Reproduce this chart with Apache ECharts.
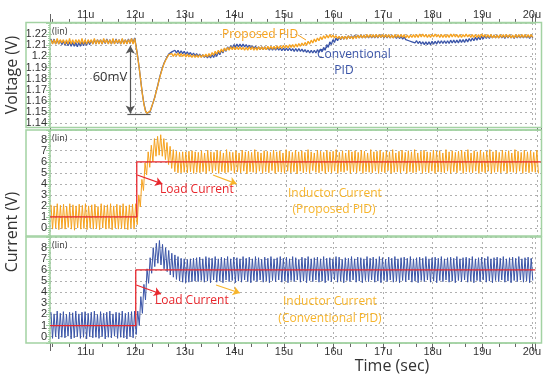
<!DOCTYPE html>
<html><head><meta charset="utf-8">
<script src="https://cdn.jsdelivr.net/npm/echarts@6/dist/echarts.min.js"></script>
<style>html,body{margin:0;padding:0;background:#fff}#c{width:544px;height:374px}</style>
</head><body><div id="c"></div>
<script>
// sampling: first sample time (µs) and half switching period (µs)
const T0 = 10.3, DT = 1/32;

// Output voltage, proposed PID (V)
const propV = [
1.215,1.211,1.215,1.211,1.216,1.211,1.215,1.212,1.215,1.211,1.215,1.211,1.216,1.211,1.215,1.211,
1.215,1.212,1.215,1.211,1.216,1.211,1.215,1.211,1.215,1.212,1.215,1.211,1.216,1.211,1.215,1.211,
1.215,1.211,1.216,1.212,1.215,1.211,1.215,1.211,1.216,1.211,1.215,1.212,1.215,1.211,1.216,1.211,
1.215,1.211,1.215,1.212,1.216,1.211,1.216,1.208,1.199,1.189,1.177,1.166,1.157,1.151,1.149,1.1485,
1.151,1.155,1.159,1.163,1.169,1.174,1.180,1.185,1.1895,1.1935,1.1965,1.199,1.2015,1.200,1.2025,1.200,
1.2025,1.2005,1.203,1.2,1.2025,1.2,1.202,1.1995,1.202,1.1995,1.2015,1.199,1.2015,1.199,1.2015,1.199,
1.2015,1.199,1.2015,1.1995,1.202,1.1995,1.2025,1.2,1.2035,1.201,1.2045,1.202,1.2055,1.203,1.2065,1.204,
1.2075,1.205,1.208,1.2055,1.2085,1.206,1.2085,1.206,1.2085,1.206,1.2085,1.206,1.208,1.2055,1.208,1.2055,
1.2085,1.206,1.2085,1.2055,1.208,1.2055,1.2085,1.206,1.2085,1.206,1.2085,1.206,1.209,1.2065,1.209,1.2065,
1.209,1.2065,1.2095,1.207,1.2095,1.207,1.21,1.2075,1.21,1.2075,1.2105,1.208,1.2105,1.208,1.211,1.2085,
1.2115,1.209,1.212,1.2095,1.2125,1.21,1.2135,1.211,1.2145,1.212,1.2155,1.213,1.2165,1.214,1.2175,1.215,
1.2185,1.216,1.219,1.2165,1.2195,1.217,1.219,1.2165,1.2185,1.216,1.218,1.2155,1.218,1.2155,1.218,1.2155,
1.2185,1.216,1.218,1.2155,1.2185,1.216,1.219,1.2165,1.219,1.2165,1.219,1.2165,1.2195,1.217,1.2195,1.217,
1.2195,1.217,1.2195,1.217,1.2195,1.217,1.2195,1.217,1.2195,1.217,1.2195,1.2165,1.219,1.2165,1.2195,1.217,
1.2195,1.217,1.2195,1.217,1.2195,1.2165,1.219,1.2165,1.219,1.217,1.2195,1.217,1.2195,1.217,1.22,1.2175,
1.22,1.2175,1.2195,1.217,1.2195,1.217,1.2195,1.2175,1.22,1.2175,1.2195,1.217,1.2195,1.217,1.2195,1.217,
1.2195,1.217,1.22,1.2175,1.22,1.2175,1.2195,1.217,1.2195,1.217,1.2195,1.2175,1.22,1.2175,1.2195,1.217,
1.2195,1.217,1.2195,1.217,1.2195,1.217,1.22,1.2175,1.2195,1.217,1.2195,1.217,1.2195,1.2165,1.219,1.2165,
1.219,1.2165,1.2195,1.217,1.2195,1.217,1.2195,1.217,1.2195,1.2165,1.219,1.2165,1.2195,1.217,1.2195,1.217,
1.2195,1.217,1.2195,1.217,1.2195,1.217,1.2195,1.217
];

// Output voltage, conventional PID (V)
const convV = [
1.2155,1.2115,1.2155,1.211,1.215,1.211,1.2145,1.2105,1.214,1.21,1.2135,1.2095,1.213,1.209,1.2125,1.209,
1.2125,1.2085,1.2125,1.209,1.213,1.2095,1.2135,1.21,1.214,1.2105,1.2145,1.211,1.215,1.211,1.215,1.2115,
1.215,1.211,1.215,1.2115,1.2155,1.2115,1.215,1.211,1.215,1.2115,1.2155,1.2115,1.215,1.211,1.2155,1.2115,
1.215,1.2115,1.2155,1.2115,1.216,1.212,1.2165,1.2085,1.1995,1.189,1.1775,1.1665,1.1575,1.1515,1.149,1.1485,
1.1505,1.1545,1.159,1.1635,1.169,1.1745,1.1805,1.1855,1.19,1.194,1.197,1.1995,1.202,1.2015,1.204,1.2025,
1.2055,1.203,1.2055,1.2025,1.205,1.2025,1.2045,1.202,1.204,1.2015,1.2035,1.201,1.203,1.2005,1.2025,1.2,
1.202,1.1995,1.2015,1.199,1.201,1.1985,1.201,1.1985,1.2015,1.199,1.2025,1.2,1.204,1.2015,1.2055,1.203,
1.207,1.2045,1.2085,1.206,1.2095,1.207,1.2105,1.208,1.211,1.2085,1.211,1.2085,1.211,1.2085,1.2105,1.208,
1.21,1.2075,1.2095,1.207,1.209,1.2065,1.2085,1.206,1.2085,1.206,1.2085,1.206,1.208,1.2055,1.208,1.2055,
1.208,1.2055,1.208,1.2055,1.2075,1.205,1.2075,1.205,1.2075,1.205,1.2075,1.205,1.207,1.2045,1.207,1.2045,
1.207,1.2045,1.2065,1.204,1.206,1.2035,1.2055,1.203,1.2055,1.203,1.2055,1.203,1.206,1.2035,1.2065,1.204,
1.208,1.2055,1.2105,1.208,1.213,1.2105,1.215,1.2125,1.2165,1.214,1.2175,1.215,1.218,1.2155,1.218,1.2155,
1.2185,1.216,1.2185,1.216,1.219,1.2165,1.219,1.2165,1.219,1.2165,1.219,1.2165,1.219,1.2165,1.219,1.2165,
1.219,1.2165,1.219,1.2165,1.2195,1.217,1.219,1.2165,1.219,1.2165,1.219,1.2165,1.219,1.2165,1.2185,1.216,
1.2185,1.216,1.218,1.2155,1.2175,1.215,1.2165,1.214,1.2155,1.213,1.2145,1.212,1.214,1.2115,1.2135,1.211,
1.213,1.2105,1.213,1.2105,1.213,1.2105,1.2135,1.211,1.2135,1.211,1.214,1.2115,1.214,1.2115,1.214,1.2115,
1.214,1.2115,1.2145,1.212,1.2145,1.212,1.2145,1.212,1.215,1.2125,1.215,1.2125,1.2155,1.213,1.216,1.2135,
1.2165,1.214,1.217,1.2145,1.2175,1.215,1.218,1.2155,1.2185,1.216,1.2185,1.216,1.219,1.2165,1.219,1.2165,
1.219,1.2165,1.219,1.2165,1.2185,1.216,1.219,1.2165,1.219,1.2165,1.2185,1.216,1.219,1.2165,1.219,1.2165,
1.219,1.2165,1.219,1.2165,1.2185,1.216,1.219,1.2165
];

// Inductor current, proposed PID (A)
const propI = [
2.1,-0.1,2.0,0.0,2.2,-0.15,2.05,-0.05,2.15,-0.1,1.95,0.05,2.2,-0.1,2.1,-0.2,
2.0,0.0,2.15,-0.1,2.05,-0.05,2.2,-0.15,2.0,0.0,2.1,-0.1,2.15,-0.05,1.95,-0.15,
2.2,0.0,2.05,-0.1,2.1,-0.05,2.2,-0.15,2.0,0.0,2.15,-0.1,2.05,-0.05,2.2,-0.1,
2.0,-0.15,2.1,0.0,2.15,-0.1,2.2,0.3,3.0,1.9,4.4,3.4,5.9,4.8,6.9,5.5,
7.5,6.0,8.1,6.5,8.3,6.6,8.45,6.5,8.1,6.2,7.75,5.75,7.4,5.4,7.1,5.1,
6.95,5.0,6.85,5.0,6.9,5.05,6.9,5.0,6.95,5.1,7.0,4.95,6.9,5.05,6.85,5.0,
7.0,5.1,6.8,4.95,7.05,5.15,6.9,5.0,6.85,5.2,7.05,4.95,6.95,5.1,6.8,5.0,
7.1,5.05,6.9,5.2,6.85,4.95,7.0,5.1,6.8,5.0,7.05,5.15,6.9,4.9,6.95,5.1,
6.85,5.05,7.1,5.0,6.9,5.15,6.8,4.95,7.0,5.1,6.95,5.0,6.85,5.2,7.05,4.95,
6.9,5.1,7.0,5.05,6.8,4.95,7.1,5.15,6.95,5.0,6.85,5.1,7.05,4.9,6.9,5.15,
7.0,5.0,6.85,5.1,7.1,4.95,6.9,5.2,6.8,5.05,7.05,5.0,6.95,5.15,6.85,4.95,
7.05,5.1,6.9,5.0,6.95,5.15,7.1,4.95,6.85,5.1,7.0,5.05,6.8,5.2,7.05,4.95,
6.9,5.1,7.0,5.0,6.85,5.15,7.05,4.95,6.95,5.1,6.8,5.05,7.1,5.0,6.9,5.15,
6.95,4.95,7.05,5.1,6.85,5.0,7.0,5.2,6.9,4.95,7.1,5.05,6.8,5.1,6.95,5.0,
7.05,5.15,6.85,4.95,7.0,5.1,6.9,5.0,7.1,5.05,6.8,5.2,6.95,4.95,7.05,5.1,
6.9,5.0,6.85,5.15,7.05,4.95,6.95,5.1,7.0,5.05,6.8,5.0,7.1,5.15,6.9,4.95,
7.0,5.1,6.85,5.0,6.95,5.2,7.05,4.95,6.9,5.1,7.1,5.05,6.8,5.0,7.0,5.15,
6.9,4.95,7.05,5.1,6.85,5.0,6.95,5.15,7.1,4.95,6.9,5.05,7.0,5.1,6.85,5.0,
7.05,5.15,6.9,4.95,7.0,5.1,6.8,5.05,7.1,5.0,6.95,5.15,6.85,4.95,7.05,5.1,
6.9,5.0,7.0,5.1,6.85,5.05,7.05,4.95
];

// Inductor current, conventional PID (A)
const convI = [
2.2,-0.15,2.05,0.0,2.3,-0.2,2.1,-0.05,2.25,-0.1,2.0,0.05,2.2,-0.2,2.15,-0.1,
2.3,0.0,2.05,-0.15,2.2,-0.05,2.25,-0.2,2.1,0.0,2.2,-0.1,2.3,-0.05,2.0,-0.15,
2.25,0.0,2.1,-0.2,2.2,-0.05,2.3,-0.1,2.05,0.05,2.2,-0.15,2.15,-0.05,2.3,-0.1,
2.1,-0.2,2.2,0.0,2.25,-0.1,2.3,0.2,2.3,1.0,3.6,2.1,4.7,3.3,6.1,4.8,
7.1,5.7,8.0,6.3,8.4,6.6,8.65,6.45,8.3,6.1,8.0,5.85,7.75,5.55,7.5,5.35,
7.35,5.15,7.2,5.0,7.05,4.9,7.0,4.85,6.95,4.9,7.0,4.95,7.05,5.0,7.1,4.95,
7.15,5.05,7.0,4.9,7.2,5.0,7.1,4.85,7.05,5.1,7.2,4.9,7.0,5.0,7.15,4.85,
7.05,5.1,7.2,4.95,7.0,5.05,7.15,4.85,7.1,5.0,7.0,4.9,7.2,5.1,7.05,4.95,
7.15,4.85,7.0,5.05,7.2,4.95,7.1,5.1,6.95,4.9,7.15,5.0,7.05,4.85,7.2,5.05,
7.0,4.95,7.1,5.1,7.2,4.9,7.05,5.0,7.15,4.85,7.0,5.05,7.2,4.95,7.1,5.1,
6.95,4.9,7.15,5.0,7.05,4.85,7.2,5.05,7.0,4.95,7.1,5.1,7.15,4.9,7.0,5.0,
7.2,4.85,7.05,5.05,7.1,4.95,7.0,5.1,7.2,4.9,7.15,5.0,6.95,4.85,7.1,5.05,
7.05,4.95,7.2,5.1,7.0,4.9,7.15,5.0,7.1,4.85,7.0,5.05,7.2,4.95,7.05,5.1,
7.15,4.9,7.0,5.0,7.2,4.85,7.1,5.05,6.95,4.95,7.15,5.1,7.05,4.9,7.2,5.0,
7.0,4.85,7.1,5.05,7.15,4.95,7.05,5.1,7.2,4.9,7.0,5.0,7.1,4.85,7.15,5.05,
7.05,4.95,7.2,5.1,7.0,4.9,7.1,5.0,7.15,4.85,7.05,5.05,7.2,4.95,7.0,5.1,
7.1,4.9,7.15,5.0,7.05,4.85,7.2,5.05,7.0,4.95,7.1,5.1,7.15,4.9,7.05,5.0,
7.2,4.85,7.0,5.05,7.1,4.95,7.15,5.1,7.05,4.9,7.2,5.0,7.0,4.85,7.1,5.05,
7.15,4.95,7.05,5.1,7.2,4.9,7.0,5.0,7.1,4.85,7.15,5.05,7.05,4.95,7.2,5.1,
7.0,4.9,7.1,5.0,7.15,4.85,7.05,5.05
];

// Load current step (A)
const loadT = [10.28, 12.01, 12.01, 20.07];
const loadI = [1, 1, 6, 6];

const XMIN = 10.28, XMAX = 20.07;
const GREEN = '#a3d2a3';
const ORANGE = '#f6a21e';
const BLUE = '#3b55a8';
const RED = '#e8262c';
const TXT = '#333';
const FONT = "'Open Sans', sans-serif";
const TFONT = "'Liberation Sans Narrow','Liberation Sans',sans-serif";

const pts = arr => arr.map((v, i) => [T0 + i * DT, v]);
const loadPts = loadT.map((t, i) => [t, loadI[i]]);

function xAx(gi, pos, showLabel, tickLen) {
  return {
    type: 'value', gridIndex: gi, position: pos, min: XMIN, max: XMAX,
    minInterval: 1, maxInterval: 1, splitNumber: 10,
    axisLine: {show: true, onZero: false, lineStyle: {color: GREEN, width: 1.5}},
    axisTick: {show: tickLen > 0, length: tickLen, lineStyle: {color: '#666'}},
    minorTick: {show: showLabel, splitNumber: 3, length: 4, lineStyle: {color: '#666'}},
    axisLabel: {show: showLabel, fontSize: 11, color: TXT, margin: 3, fontFamily: TFONT,
      formatter: v => Math.abs(v - Math.round(v)) < 1e-6 ? Math.round(v) + 'u' : ''},
    splitLine: {show: true, lineStyle: {color: '#b0b0b0', type: [2, 3], width: 1}}
  };
}
function yAx(gi, min, max, step) {
  return {
    type: 'value', gridIndex: gi, min: min, max: max, minInterval: step, maxInterval: step,
    splitNumber: Math.round((max - min) / step),
    axisLine: {show: true, onZero: false, lineStyle: {color: GREEN, width: 1.5}},
    axisTick: {show: true, length: 4, lineStyle: {color: GREEN}},
    minorTick: {show: true, splitNumber: 5, length: 2, lineStyle: {color: GREEN}},
    axisLabel: {fontSize: 11, color: TXT, margin: 3, fontFamily: TFONT,
      formatter: v => { const k = v / step; return Math.abs(k - Math.round(k)) < 1e-6 ? String(+(Math.round(k) * step).toFixed(2)) : ''; }},
    splitLine: {show: true, lineStyle: {color: '#b0b0b0', type: [2, 3], width: 1}}
  };
}

const arrowLine = (color) => ({color: color, width: 1.2, type: 'solid'});

const txt = (x, y, s, color, size, extra) => ({
  type: 'text', x: x, y: y, z: 120,
  style: Object.assign({text: s, fill: color, font: size + 'px ' + FONT, textVerticalAlign: 'middle', textAlign: 'left'}, extra || {})
});

const chart = echarts.init(document.getElementById('c'), null, {renderer: 'canvas'});
chart.setOption({
  animation: false,
  backgroundColor: '#fff',
  grid: [
    {left: 50, top: 23, width: 491, height: 104},
    {left: 50, top: 130, width: 491, height: 106},
    {left: 50, top: 237, width: 491, height: 106}
  ],
  xAxis: [xAx(0, 'top', true, 9), xAx(1, 'top', false, 3), xAx(2, 'bottom', true, 8)],
  yAxis: [yAx(0, 1.1367, 1.2299, 0.01), yAx(1, -0.725, 8.88, 1), yAx(2, -0.566, 8.962, 1)],
  series: [
    {type: 'line', xAxisIndex: 0, yAxisIndex: 0, data: pts(convV), showSymbol: false, symbol: 'none',
      lineStyle: {color: BLUE, width: 1.3}, itemStyle: {color: BLUE}},
    {type: 'line', xAxisIndex: 0, yAxisIndex: 0, data: pts(propV), showSymbol: false, symbol: 'none',
      lineStyle: {color: ORANGE, width: 1.3}, itemStyle: {color: ORANGE},
      markLine: {silent: true, animation: false, label: {show: false}, symbolSize: [7, 8],
        data: [
          [{coord: [11.9, 1.2095], symbol: 'arrow', lineStyle: arrowLine('#555')}, {coord: [11.9, 1.1488], symbol: 'arrow'}],
          [{coord: [11.84, 1.1483], symbol: 'none', lineStyle: arrowLine('#555')}, {coord: [12.31, 1.1483], symbol: 'none'}]
        ]}},
    {type: 'line', xAxisIndex: 1, yAxisIndex: 1, data: pts(propI), showSymbol: false, symbol: 'none',
      lineStyle: {color: ORANGE, width: 1}, itemStyle: {color: ORANGE}},
    {type: 'line', xAxisIndex: 1, yAxisIndex: 1, data: loadPts, showSymbol: false, symbol: 'none',
      lineStyle: {color: RED, width: 1.3}, itemStyle: {color: RED},
      markLine: {silent: true, animation: false, label: {show: false}, symbol: ['none', 'arrow'], symbolSize: 7,
        data: [
          [{coord: [12.02, 4.8], lineStyle: arrowLine(RED)}, {coord: [12.52, 4.0]}],
          [{coord: [13.53, 4.8], lineStyle: arrowLine('#f7b52c')}, {coord: [14.0, 4.0]}]
        ]}},
    {type: 'line', xAxisIndex: 2, yAxisIndex: 2, data: pts(convI), showSymbol: false, symbol: 'none',
      lineStyle: {color: BLUE, width: 1}, itemStyle: {color: BLUE}},
    {type: 'line', xAxisIndex: 2, yAxisIndex: 2, data: loadPts, showSymbol: false, symbol: 'none',
      lineStyle: {color: RED, width: 1.3}, itemStyle: {color: RED},
      markLine: {silent: true, animation: false, label: {show: false}, symbol: ['none', 'arrow'], symbolSize: 7,
        data: [
          [{coord: [12.02, 4.65], lineStyle: arrowLine(RED)}, {coord: [12.52, 3.84]}],
          [{coord: [13.63, 4.65], lineStyle: arrowLine('#f7b52c')}, {coord: [14.11, 3.93]}]
        ]}}
  ],
  graphic: [
    {type: 'rect', z: 110, shape: {x: 26, y: 22.5, width: 515.5, height: 105}, style: {fill: 'none', stroke: GREEN, lineWidth: 1.5}},
    {type: 'rect', z: 110, shape: {x: 26, y: 130, width: 515.5, height: 106}, style: {fill: 'none', stroke: GREEN, lineWidth: 1.5}},
    {type: 'rect', z: 110, shape: {x: 26, y: 237, width: 515.5, height: 106}, style: {fill: 'none', stroke: GREEN, lineWidth: 1.5}},
    Object.assign(txt(12, 75, 'Voltage (V)', TXT, 16, {textAlign: 'center'}), {rotation: Math.PI / 2}),
    Object.assign(txt(12, 232, 'Current (V)', TXT, 16, {textAlign: 'center'}), {rotation: Math.PI / 2}),
    txt(392, 366, 'Time (sec)', TXT, 16, {textAlign: 'center'}),
    txt(52, 31, '(lin)', TXT, 9),
    txt(52, 138, '(lin)', TXT, 9),
    txt(52, 245, '(lin)', TXT, 9),
    txt(110, 77, '60mV', TXT, 13, {textAlign: 'center'}),
    txt(222, 35, 'Proposed PID', ORANGE, 12),
    txt(317, 55, 'Conventional', BLUE, 12),
    txt(344, 71, 'PID', BLUE, 12, {textAlign: 'center'}),
    txt(160, 190, 'Load Current', RED, 12),
    txt(288, 194, 'Inductor Current', '#f7b52c', 12),
    txt(334, 210, '(Proposed PID)', '#f7b52c', 12, {textAlign: 'center'}),
    txt(155, 301, 'Load Current', RED, 12),
    txt(283, 302, 'Inductor Current', '#f7b52c', 12),
    txt(330, 319, '(Conventional PID)', '#f7b52c', 12, {textAlign: 'center'}),
    {type: 'line', z: 120, shape: {x1: 298, y1: 35, x2: 306, y2: 40}, style: {stroke: ORANGE, lineWidth: 1}},
    {type: 'line', z: 120, shape: {x1: 331, y1: 43, x2: 324, y2: 50}, style: {stroke: BLUE, lineWidth: 1}}
  ]
});
</script>
</body></html>
